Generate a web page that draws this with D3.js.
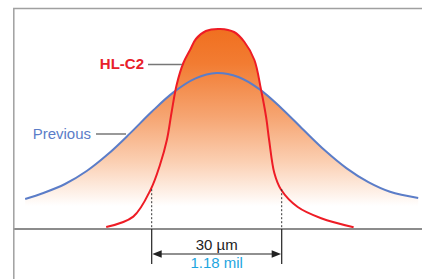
<!DOCTYPE html>
<html lang="en">
<head>
  <meta charset="UTF-8" />
  <title>HL-C2 vs Previous</title>
  <script src="https://d3js.org/d3.v7.min.js"></script>
  <style>
    body { margin: 0; background: #fff; font-family: Arial, 'Liberation Sans', sans-serif; }
    svg { display: block; }
  </style>
</head>
<body>
  <svg id="chart" width="422" height="279"></svg>
  <script>
    // profile positions in µm, relative intensity
    const prevX = [-44.2, -40, -35, -30, -25, -20, -15, -10, -5, 0, 5, 10, 15, 20, 25, 30, 35, 40, 46.5];
    const prevY = [0.15, 0.18, 0.225, 0.29, 0.376, 0.478, 0.586, 0.683, 0.752, 0.78, 0.76, 0.697, 0.603, 0.496, 0.392, 0.303, 0.234, 0.186, 0.155];

    const hlX = [-25.5, -19.25, -15.2, -13.1, -11.5, -10.4, -9.25, -7.7, -6.15, -4.8, -2.5, 0.8, 4, 6.4, 8.7, 10.2, 11.4, 12.1, 13.3, 14.8, 18.7, 24.1, 31.6];
    const hlY = [0.01, 0.062, 0.199, 0.32, 0.445, 0.585, 0.72, 0.83, 0.895, 0.95, 0.99, 1.0, 0.985, 0.935, 0.845, 0.70, 0.56, 0.445, 0.28, 0.199, 0.11, 0.054, 0.009];

    const dimension = [-15, 15]; // µm
    const dimLabel = "30 µm";
    const dimLabel2 = "1.18 mil";

    const svg = d3.select("#chart");
    const x = d3.scaleLinear().domain([-47, 47]).range([13.03, 420.37]);
    const y = d3.scaleLinear().domain([0, 1]).range([229, 29]);

    const prev = prevX.map((d, i) => ({ x: d, y: prevY[i] }));
    const hl = hlX.map((d, i) => ({ x: d, y: hlY[i] }));

    const defs = svg.append("defs");
    const grad = defs.append("linearGradient")
      .attr("id", "fillGrad")
      .attr("gradientUnits", "userSpaceOnUse")
      .attr("x1", 0).attr("x2", 0)
      .attr("y1", 28).attr("y2", 206);
    [[0, "#f06f1f"], [0.2, "#f27c32"], [0.5, "#f6a572"], [0.75, "#fbcfb2"], [1, "#ffffff"]]
      .forEach(s => grad.append("stop").attr("offset", s[0]).attr("stop-color", s[1]));

    const curve = d3.curveCatmullRom.alpha(0.5);
    const area = d3.area().x(d => x(d.x)).y0(y(0)).y1(d => y(d.y)).curve(curve);
    const line = d3.line().x(d => x(d.x)).y(d => y(d.y)).curve(curve);

    svg.append("path").attr("d", area(prev)).attr("fill", "url(#fillGrad)");
    svg.append("path").attr("d", area(hl)).attr("fill", "url(#fillGrad)");

    svg.append("path").attr("d", line(prev))
      .attr("fill", "none").attr("stroke", "#5b7dc8").attr("stroke-width", 2);
    svg.append("path").attr("d", line(hl))
      .attr("fill", "none").attr("stroke", "#ee1c25").attr("stroke-width", 2);

    // baseline + frame
    svg.append("line").attr("x1", 13).attr("x2", 422).attr("y1", y(0)).attr("y2", y(0))
      .attr("stroke", "#8c8c8c").attr("stroke-width", 2);
    svg.append("path").attr("d", "M13.8,279V8.5H422")
      .attr("fill", "none").attr("stroke", "#a0a0a0").attr("stroke-width", 1.5);

    // dimension lines
    const dimTop = y(0.199);
    dimension.forEach(u => {
      svg.append("line").attr("x1", x(u)).attr("x2", x(u))
        .attr("y1", dimTop).attr("y2", y(0))
        .attr("stroke", "#333").attr("stroke-width", 1).attr("stroke-dasharray", "2,2");
      svg.append("line").attr("x1", x(u)).attr("x2", x(u))
        .attr("y1", y(0)).attr("y2", 264)
        .attr("stroke", "#222").attr("stroke-width", 1.2);
    });

    const ay = 254;
    const x0 = x(dimension[0]), x1 = x(dimension[1]);
    svg.append("line").attr("x1", x0 + 6).attr("x2", x1 - 6).attr("y1", ay).attr("y2", ay)
      .attr("stroke", "#222").attr("stroke-width", 1.2);
    svg.append("path").attr("d", `M${x0 + 0.6},${ay}L${x0 + 10},${ay - 3.8}L${x0 + 10},${ay + 3.8}Z`).attr("fill", "#222");
    svg.append("path").attr("d", `M${x1 - 0.6},${ay}L${x1 - 10},${ay - 3.8}L${x1 - 10},${ay + 3.8}Z`).attr("fill", "#222");

    const mid = (x0 + x1) / 2;
    svg.append("text").attr("x", mid).attr("y", 250).attr("text-anchor", "middle")
      .attr("font-size", 15).attr("fill", "#222").text(dimLabel);
    svg.append("text").attr("x", mid).attr("y", 268).attr("text-anchor", "middle")
      .attr("font-size", 15).attr("fill", "#1ea5e0").text(dimLabel2);

    // labels
    svg.append("text").attr("x", 144).attr("y", 68.5).attr("text-anchor", "end")
      .attr("font-size", 15).attr("font-weight", "bold").attr("fill", "#e8202a").text("HL-C2");
    svg.append("line").attr("x1", 148).attr("x2", 182).attr("y1", 64.5).attr("y2", 64.5)
      .attr("stroke", "#777").attr("stroke-width", 1.5);

    svg.append("text").attr("x", 91).attr("y", 138.5).attr("text-anchor", "end")
      .attr("font-size", 15).attr("fill", "#5b7dc8").text("Previous");
    svg.append("line").attr("x1", 96).attr("x2", 126).attr("y1", 134).attr("y2", 134)
      .attr("stroke", "#777").attr("stroke-width", 1.5);
  </script>
</body>
</html>
